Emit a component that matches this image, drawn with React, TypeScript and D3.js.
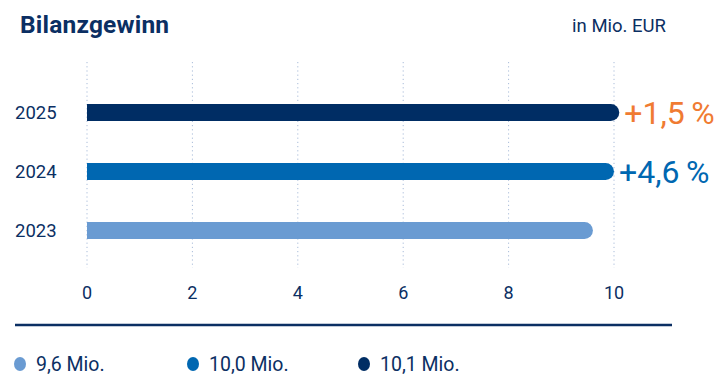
import React from "react";
import * as d3 from "d3";

const years = ["2025", "2024", "2023"];
const values = [10.1, 10.0, 9.6];
const changeLabels = ["+1,5\u2009%", "+4,6\u2009%", ""];
const ticks = [0, 2, 4, 6, 8, 10];
const legendLabels = ["9,6 Mio.", "10,0 Mio.", "10,1 Mio."];

const barColors = ["#002d64", "#0067b1", "#6a9bd2"];
const labelColors = ["#f07b32", "#0067b1", "#6a9bd2"];
const legendColors = ["#6a9bd2", "#0067b1", "#002d64"];
const navy = "#0b2f63";
const FONT = "Roboto, sans-serif";

export default function App() {
  const W = 722, H = 375;
  const x = d3.scaleLinear().domain([0, 10]).range([87, 614]);
  const y = d3.scaleBand().domain(years).range([83, 260]).paddingInner(0.7).paddingOuter(0.35);
  const bh = 17;
  const legendX = [20, 193, 364];

  const barPath = (v: number, cy: number) => {
    const x0 = x(0), x1 = x(v), r = bh / 2;
    return `M${x0},${cy - r}H${x1 - r}A${r},${r} 0 0 1 ${x1 - r},${cy + r}H${x0}Z`;
  };

  return (
    <svg width={W} height={H} style={{ position: "absolute", left: 0, top: 0, background: "#fff" }} fontFamily={FONT}>
      <text x={20} y={33} fontSize={24.5} fontWeight="bold" fill={navy} letterSpacing={0.2}>Bilanzgewinn</text>
      <text x={666} y={32} fontSize={18.5} fill={navy} textAnchor="end">in Mio. EUR</text>
      {ticks.map((t) => (
        <line key={t} x1={x(t)} x2={x(t)} y1={62} y2={268} stroke="#a9bcd9" strokeWidth={1} strokeDasharray="1.2,3" />
      ))}
      {years.map((yr, i) => {
        const cy = (y(yr) as number) + y.bandwidth() / 2;
        return (
          <g key={yr}>
            <text x={15} y={cy + 6.5} fontSize={18.5} fill={navy}>{yr}</text>
            <path d={barPath(values[i], cy)} fill={barColors[i]} />
            {changeLabels[i] && (
              <text x={x(values[i]) + 5} y={cy + 11} fontSize={32} fill={labelColors[i]}>{changeLabels[i]}</text>
            )}
          </g>
        );
      })}
      {ticks.map((t) => (
        <text key={t} x={x(t)} y={299} fontSize={18} fill={navy} textAnchor="middle">{t}</text>
      ))}
      <line x1={15} x2={672} y1={325} y2={325} stroke={navy} strokeWidth={2.5} />
      {legendLabels.map((l, i) => (
        <g key={l}>
          <ellipse cx={legendX[i]} cy={364} rx={6} ry={7} fill={legendColors[i]} />
          <text x={legendX[i] + 16} y={371} fontSize={19.5} fill={navy}>{l}</text>
        </g>
      ))}
    </svg>
  );
}
